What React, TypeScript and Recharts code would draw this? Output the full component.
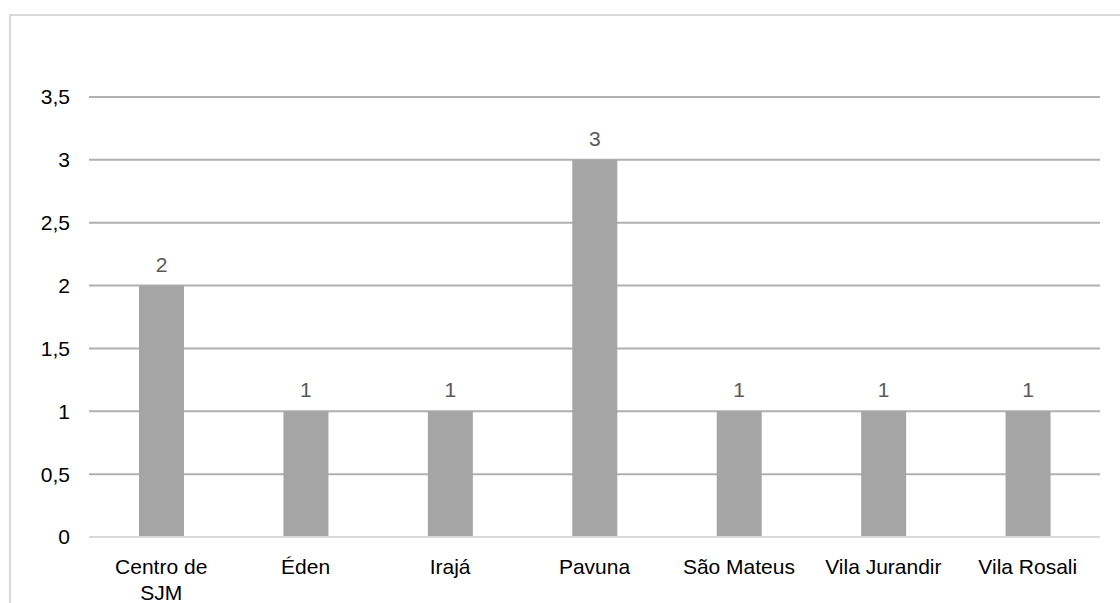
import { BarChart, Bar, XAxis, YAxis, CartesianGrid, LabelList } from "recharts";

const bairros = ["Centro de SJM", "Éden", "Irajá", "Pavuna", "São Mateus", "Vila Jurandir", "Vila Rosali"];
const quantidade = [2, 1, 1, 3, 1, 1, 1];
const yTicks = [0, 0.5, 1, 1.5, 2, 2.5, 3, 3.5];

const data = bairros.map((nome, i) => ({ nome, valor: quantidade[i] }));

const FONT = "'Liberation Sans', Arial, sans-serif";
const FONT_SIZE = 21;

const fmt = (v: number) => String(v).replace(".", ",");

// greedy word wrap, measured on a canvas
let ctx: CanvasRenderingContext2D | null = null;
const wrap = (label: string, maxWidth: number) => {
  if (!ctx) ctx = document.createElement("canvas").getContext("2d");
  if (!ctx) return [label];
  ctx.font = `${FONT_SIZE}px ${FONT}`;
  const lines: string[] = [];
  let cur = "";
  for (const w of label.split(" ")) {
    const test = cur ? cur + " " + w : w;
    if (cur && ctx.measureText(test).width > maxWidth) {
      lines.push(cur);
      cur = w;
    } else cur = test;
  }
  if (cur) lines.push(cur);
  return lines;
};

const CategoryTick = ({ x, y, payload }: any) => {
  const lines = wrap(payload.value, 128);
  return (
    <text x={x} y={y + 29} textAnchor="middle" fontSize={FONT_SIZE} fontFamily={FONT} fill="#000">
      {lines.map((l, i) => (
        <tspan key={i} x={x} dy={i === 0 ? 0 : 26}>
          {l}
        </tspan>
      ))}
    </text>
  );
};

export default function App() {
  return (
    <div style={{ position: "absolute", left: 0, top: 0, width: 1120, height: 603, background: "#fff", overflow: "hidden" }}>
      <div
        style={{
          position: "absolute",
          left: 9,
          top: 14,
          width: 1120,
          height: 600,
          borderTop: "2px solid #d9d9d9",
          borderLeft: "2px solid #d9d9d9",
        }}
      />
      <div style={{ position: "absolute", left: 0, top: 0 }}>
        <BarChart
          width={1120}
          height={603}
          data={data}
          margin={{ top: 97, right: 20, bottom: 0, left: 0 }}
        >
          <CartesianGrid vertical={false} stroke="#b0b0b0" strokeWidth={2} />
          <XAxis
            dataKey="nome"
            axisLine={{ stroke: "#d9d9d9", strokeWidth: 2 }}
            tickLine={false}
            height={66}
            interval={0}
            tick={<CategoryTick />}
          />
          <YAxis
            width={89}
            domain={[0, 3.5]}
            ticks={yTicks}
            axisLine={false}
            tickLine={false}
            tickMargin={13}
            tickFormatter={fmt}
            tick={{ fontSize: FONT_SIZE, fontFamily: FONT, fill: "#000" }}
          />
          <Bar dataKey="valor" fill="#a5a5a5" barSize={45} isAnimationActive={false}>
            <LabelList
              dataKey="valor"
              position="top"
              offset={14}
              fontSize={FONT_SIZE}
              fontFamily={FONT}
              fill="#595959"
              formatter={fmt}
            />
          </Bar>
        </BarChart>
      </div>
    </div>
  );
}
